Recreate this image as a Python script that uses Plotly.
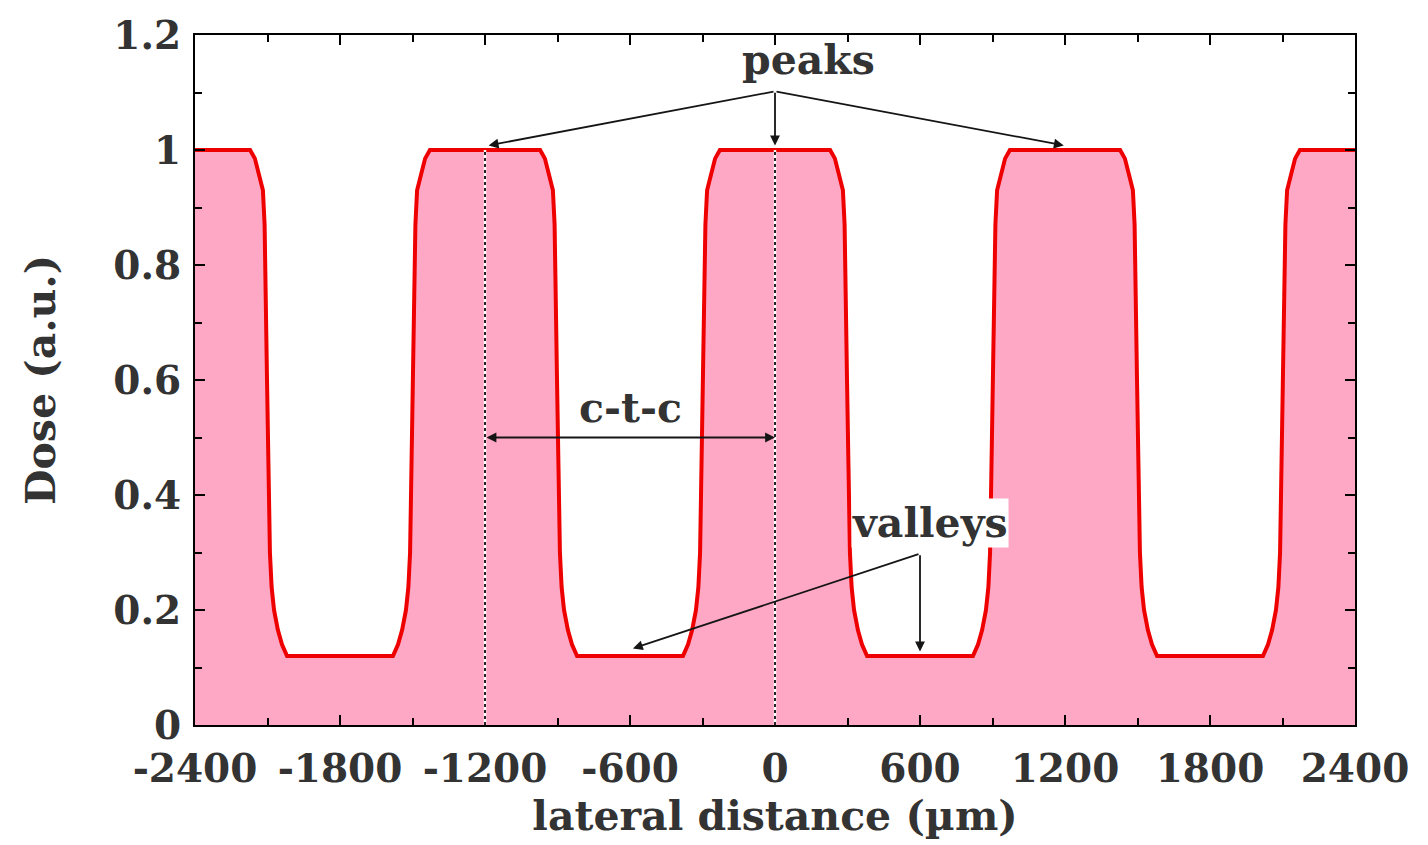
import plotly.graph_objects as go

# Lateral dose profile across the grating (µm, a.u.)
lateral_um = [
    -2400, -2172, -2152, -2135, -2119, -2112, -2108, -2102, -2096, -2090, -2083, -2073, -2057, -2040, -2019,
    -1581, -1560, -1543, -1527, -1517, -1510, -1504, -1498, -1492, -1488, -1481, -1465, -1448, -1428,
    -972, -952, -935, -919, -912, -908, -902, -896, -890, -883, -873, -857, -840, -819,
    -381, -360, -343, -327, -317, -310, -304, -298, -292, -288, -281, -265, -248, -228,
    228, 248, 265, 281, 288, 292, 298, 304, 310, 317, 327, 343, 360, 381,
    819, 840, 857, 873, 883, 890, 896, 902, 908, 912, 919, 935, 952, 972,
    1428, 1448, 1465, 1481, 1488, 1492, 1498, 1504, 1510, 1517, 1527, 1543, 1560, 1581,
    2019, 2040, 2057, 2073, 2083, 2090, 2096, 2102, 2108, 2112, 2119, 2135, 2152, 2172, 2400,
]
dose = [
    1.0, 1.0, 0.985, 0.955, 0.93, 0.87, 0.70, 0.60, 0.45, 0.30, 0.24, 0.20, 0.165, 0.14, 0.12,
    0.12, 0.14, 0.165, 0.20, 0.24, 0.30, 0.45, 0.60, 0.70, 0.87, 0.93, 0.955, 0.985, 1.0,
    1.0, 0.985, 0.955, 0.93, 0.87, 0.70, 0.60, 0.45, 0.30, 0.24, 0.20, 0.165, 0.14, 0.12,
    0.12, 0.14, 0.165, 0.20, 0.24, 0.30, 0.45, 0.60, 0.70, 0.87, 0.93, 0.955, 0.985, 1.0,
    1.0, 0.985, 0.955, 0.93, 0.87, 0.70, 0.60, 0.45, 0.30, 0.24, 0.20, 0.165, 0.14, 0.12,
    0.12, 0.14, 0.165, 0.20, 0.24, 0.30, 0.45, 0.60, 0.70, 0.87, 0.93, 0.955, 0.985, 1.0,
    1.0, 0.985, 0.955, 0.93, 0.87, 0.70, 0.60, 0.45, 0.30, 0.24, 0.20, 0.165, 0.14, 0.12,
    0.12, 0.14, 0.165, 0.20, 0.24, 0.30, 0.45, 0.60, 0.70, 0.87, 0.93, 0.955, 0.985, 1.0, 1.0,
]

x_ticks = [-2400, -1800, -1200, -600, 0, 600, 1200, 1800, 2400]
x_tick_text = ["-2400", "-1800", "-1200", "-600", "0", "600", "1200", "1800", "2400"]
y_ticks = [0, 0.2, 0.4, 0.6, 0.8, 1.0, 1.2]
y_tick_text = ["0", "0.2", "0.4", "0.6", "0.8", "1", "1.2"]

# Marker lines at two neighbouring peak centres
ctc_centres = [-1200, 0]

FONT = dict(family="DejaVu Serif", size=41, color="#333333", weight="bold")
TICKFONT = dict(family="DejaVu Serif", size=39, color="#333333", weight="bold")
ARROW = "#151515"

fig = go.Figure()

fig.add_trace(go.Scatter(
    x=lateral_um, y=dose, mode="lines",
    line=dict(color="#EE0000", width=4),
    fill="tozeroy", fillcolor="#FFA8C6",
    showlegend=False, hoverinfo="skip",
))

shapes = []
for xc in ctc_centres:
    shapes.append(dict(type="line", xref="x", yref="y", x0=xc, x1=xc, y0=0, y1=1.0,
                       line=dict(color="white", width=2.5), layer="above"))
    shapes.append(dict(type="line", xref="x", yref="y", x0=xc, x1=xc, y0=0, y1=1.0,
                       line=dict(color="#222222", width=2, dash="dot"), layer="above"))

annotations = [
    dict(x=137, y=1.156, xref="x", yref="y", text="peaks", showarrow=False, font=FONT),
    dict(x=-600, y=0.551, xref="x", yref="y", text="c-t-c", showarrow=False, font=FONT),
    dict(x=641, y=0.352, xref="x", yref="y", text="valleys", showarrow=False, font=FONT,
         bgcolor="white", borderpad=0),
]

# peaks arrows
for hx, hy in [(-1185, 1.008), (0, 1.008), (1195, 1.008)]:
    annotations.append(dict(x=hx, y=hy, ax=0, ay=1.102, xref="x", yref="y", axref="x", ayref="y",
                            text="", showarrow=True, arrowhead=2, arrowsize=1.1, arrowwidth=1.8,
                            arrowcolor=ARROW, standoff=0))
# valleys arrows
for hx, hy in [(-588, 0.133), (600, 0.128)]:
    annotations.append(dict(x=hx, y=hy, ax=600, ay=0.298, xref="x", yref="y", axref="x", ayref="y",
                            text="", showarrow=True, arrowhead=2, arrowsize=1.1, arrowwidth=1.8,
                            arrowcolor=ARROW, standoff=0))
# centre-to-centre double arrow
annotations.append(dict(x=ctc_centres[1], y=0.5, ax=ctc_centres[0], ay=0.5, xref="x", yref="y",
                        axref="x", ayref="y", text="", showarrow=True, arrowhead=2, startarrowhead=2,
                        arrowside="end+start", arrowsize=1.1, startarrowsize=1.1, arrowwidth=1.8,
                        arrowcolor=ARROW, standoff=0, startstandoff=0))

fig.update_layout(
    width=1428, height=845,
    margin=dict(l=195, r=73, t=32, b=120),
    paper_bgcolor="white", plot_bgcolor="white",
    shapes=shapes, annotations=annotations,
    xaxis=dict(
        range=[-2400, 2400], tickvals=x_ticks, ticktext=x_tick_text, tickfont=TICKFONT,
        ticks="inside", ticklen=10, tickwidth=2, tickcolor="black", ticklabelstandoff=8,
        minor=dict(dtick=300, tick0=0, ticks="inside", ticklen=7, tickwidth=1.5, tickcolor="black"),
        showline=True, linecolor="black", linewidth=2, mirror="ticks",
        showgrid=False, zeroline=False,
        title=dict(text="lateral distance (µm)", font=FONT, standoff=12),
    ),
    yaxis=dict(
        range=[0, 1.2], tickvals=y_ticks, ticktext=y_tick_text, tickfont=TICKFONT,
        ticks="inside", ticklen=10, tickwidth=2, tickcolor="black", ticklabelstandoff=4,
        minor=dict(dtick=0.1, tick0=0, ticks="inside", ticklen=7, tickwidth=1.5, tickcolor="black"),
        showline=True, linecolor="black", linewidth=2, mirror="ticks",
        showgrid=False, zeroline=False,
        title=dict(text="Dose (a.u.)", font=FONT, standoff=45),
    ),
)

fig.write_html("out.html")
